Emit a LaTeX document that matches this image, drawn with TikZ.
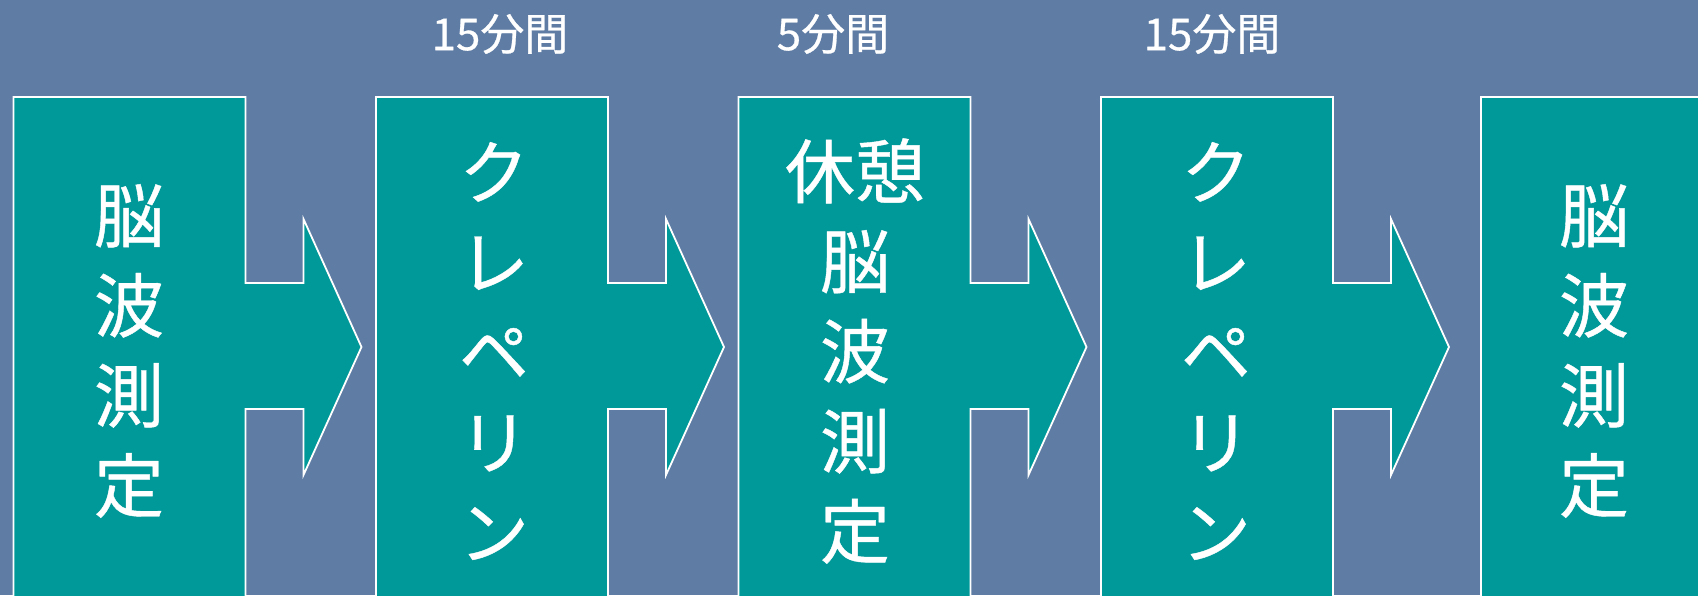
\documentclass[tikz,border=0pt]{standalone}
\usepackage{fontspec}
\newfontfamily\jp[FakeBold=0.6]{Noto Sans CJK JP}
\definecolor{bgblue}{RGB}{94,124,164}
\definecolor{boxteal}{RGB}{0,153,153}
\begin{document}
\begin{tikzpicture}[x=1pt,y=-1pt,
  flow/.style={fill=boxteal, draw=white, line width=1.8pt, line join=miter},
  vlabel/.style={text=white, font=\jp\fontsize{70}{90}\selectfont, align=center, inner sep=0pt},
  tlabel/.style={text=white, font=\jp\fontsize{44}{50}\selectfont, inner sep=0pt}]
\useasboundingbox (0,0) rectangle (1698,595);
\clip (0,0) rectangle (1698,595);
\fill[bgblue] (0,0) rectangle (1698,595);
\foreach \L in {13.5,376,738.5,1101} {
  \draw[flow] (\L,97) -- ({\L+232},97) -- ({\L+232},283) -- ({\L+290},283) -- ({\L+290},219)
    -- ({\L+348},347) -- ({\L+290},475) -- ({\L+290},409) -- ({\L+232},409)
    -- ({\L+232},620) -- (\L,620) -- cycle;
}
\draw[flow] (1481,97) rectangle (1720,620);
\node[vlabel] (m1) at (129,351) {脳\\波\\測\\定};
\node[vlabel] (k1) at (494,351) {ク\\レ\\ペ\\リ\\ン};
\node[vlabel] (r)  at (855,351) {休憩\\脳\\波\\測\\定};
\node[vlabel] (k2) at (1216,351) {ク\\レ\\ペ\\リ\\ン};
\node[vlabel] (m2) at (1594,351) {脳\\波\\測\\定};
\node[tlabel] (t1) at (500,34) {15分間};
\node[tlabel] (t2) at (833,34) {5分間};
\node[tlabel] (t3) at (1212,34) {15分間};
\end{tikzpicture}
\end{document}
